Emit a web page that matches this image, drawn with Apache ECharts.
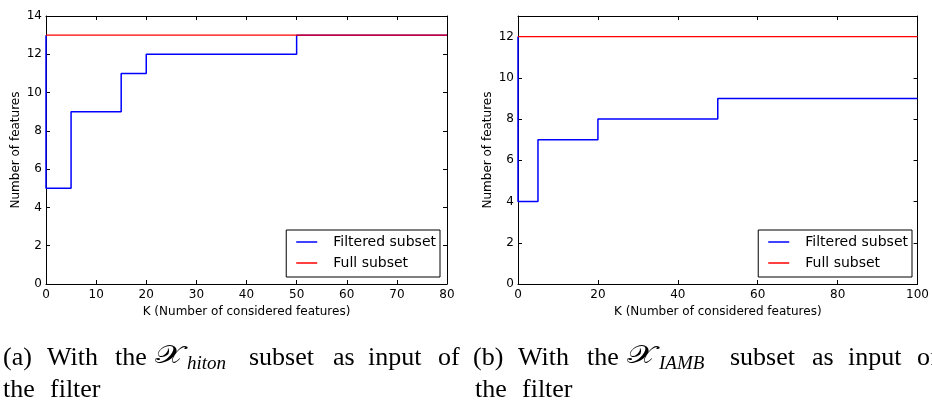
<!DOCTYPE html>
<html><head><meta charset="utf-8">
<script src="https://cdn.jsdelivr.net/npm/echarts@6/dist/echarts.min.js"></script>
<style>html,body{margin:0;padding:0;background:#fff}#c{width:932px;height:403px}</style>
</head><body><div id="c"></div>
<script>
// Data
const kHiton = [0, 0, 5, 15, 20, 50, 80];
const filteredHiton = [13, 5, 9, 11, 12, 13, 13];
const fullHitonK = [0, 80];
const fullHiton = [13, 13];
const kIamb = [0, 0, 5, 20, 50, 100];
const filteredIamb = [12, 4, 7, 8, 9, 9];
const fullIambK = [0, 100];
const fullIamb = [12, 12];
const seriesNames = ['Filtered subset', 'Full subset'];
const xName = 'K (Number of considered features)';
const yName = 'Number of features';
// Caption words (text, left x) — justified line layout of the original
const captionA1 = [['(a)', 3], ['With', 47], ['the', 115], ['subset', 249], ['as', 333], ['input', 368], ['of', 438]];
const captionA2 = [['the', 3], ['filter', 50]];
const captionB1 = [['(b)', 473], ['With', 518], ['the', 587], ['subset', 730], ['as', 812], ['input', 848], ['of', 917]];
const captionB2 = [['the', 475], ['filter', 522]];
const mathA = { sym: '𝒳', x: 155, sub: 'hiton', subX: 187 };
const mathB = { sym: '𝒳', x: 627, sub: 'IAMB', subX: 659 };

const FONT = 'DejaVu Sans';
const SERIF = 'Liberation Serif';
const zip = (xs, ys) => xs.map((x, i) => [x, ys[i]]);

function xAxes(gi, max, interval) {
  const base = {
    type: 'value', gridIndex: gi, min: 0, max: max, interval: interval,
    axisLine: { show: true, onZero: false, lineStyle: { color: '#000', width: 1 } },
    axisTick: { show: true, inside: true, length: 4, lineStyle: { color: '#000', width: 1 } },
    splitLine: { show: false }
  };
  return [
    Object.assign({}, base, {
      position: 'bottom',
      axisLabel: { color: '#000', fontFamily: FONT, fontSize: 12, margin: 5 },
      name: xName, nameLocation: 'middle', nameGap: 20,
      nameTextStyle: { color: '#000', fontFamily: FONT, fontSize: 12 }
    }),
    Object.assign({}, base, { position: 'top', axisLabel: { show: false } })
  ];
}
function yAxes(gi, max, interval) {
  const base = {
    type: 'value', gridIndex: gi, min: 0, max: max, interval: interval,
    axisLine: { show: true, onZero: false, lineStyle: { color: '#000', width: 1 } },
    axisTick: { show: true, inside: true, length: 4, lineStyle: { color: '#000', width: 1 } },
    splitLine: { show: false }
  };
  return [
    Object.assign({}, base, {
      position: 'left',
      axisLabel: { color: '#000', fontFamily: FONT, fontSize: 12, margin: 4, showMaxLabel: max % interval === 0 },
      name: yName, nameLocation: 'middle', nameGap: 24, nameRotate: 90,
      nameTextStyle: { color: '#000', fontFamily: FONT, fontSize: 12 }
    }),
    Object.assign({}, base, { position: 'right', axisLabel: { show: false } })
  ];
}
function legend(right) {
  return {
    orient: 'vertical', right: right, bottom: 126,
    padding: [5, 4, 7, 10], itemWidth: 21, itemHeight: 1.5, itemGap: 7, icon: 'rect',
    borderColor: '#000', borderWidth: 1, borderRadius: 0, backgroundColor: '#fff',
    selectedMode: false,
    textStyle: { fontFamily: FONT, fontSize: 14, lineHeight: 14, color: '#000', padding: [0, 0, 0, 11] },
    data: seriesNames
  };
}
function word(text, left, top, size, italic, family) {
  return {
    type: 'text', left: left, top: top, silent: true,
    style: { text: text, fontFamily: family || SERIF, fontSize: size, fontStyle: italic ? 'italic' : 'normal', fill: '#000' }
  };
}
function captionGraphics(line1, line2, math) {
  const out = [];
  line1.forEach(w => out.push(word(w[0], w[1], 345, 26, false)));
  line2.forEach(w => out.push(word(w[0], w[1], 377, 26, false)));
  out.push({
    type: 'text', x: math.x, y: 344, scaleX: 1.35, silent: true,
    style: { text: math.sym, fontFamily: 'DejaVu Serif, DejaVu Sans, serif', fontSize: 25, fill: '#000',
      textAlign: 'left', textVerticalAlign: 'top', align: 'left', verticalAlign: 'top' }
  });
  out.push(word(math.sub, math.subX, 354, 19, true));
  return out;
}

const chart = echarts.init(document.getElementById('c'), null, { renderer: 'canvas' });
chart.setOption({
  animation: false,
  backgroundColor: '#fff',
  grid: [
    { left: 46, top: 16, width: 401, height: 268 },
    { left: 518, top: 16, width: 401, height: 268 }
  ],
  xAxis: [...xAxes(0, 80, 10), ...xAxes(1, 100, 20)],
  yAxis: [...yAxes(0, 14, 2), ...yAxes(1, 13, 2)],
  legend: [legend(492), legend(20)],
  series: [
    { name: seriesNames[0], type: 'line', xAxisIndex: 0, yAxisIndex: 0, step: 'end', symbol: 'none',
      lineStyle: { color: '#0000ff', width: 1.5 }, itemStyle: { color: '#0000ff' }, data: zip(kHiton, filteredHiton) },
    { name: seriesNames[1], type: 'line', xAxisIndex: 0, yAxisIndex: 0, symbol: 'none',
      lineStyle: { color: '#ff0000', width: 1.2 }, itemStyle: { color: '#ff0000' }, data: zip(fullHitonK, fullHiton) },
    { name: seriesNames[0], type: 'line', xAxisIndex: 2, yAxisIndex: 2, step: 'end', symbol: 'none',
      lineStyle: { color: '#0000ff', width: 1.5 }, itemStyle: { color: '#0000ff' }, data: zip(kIamb, filteredIamb) },
    { name: seriesNames[1], type: 'line', xAxisIndex: 2, yAxisIndex: 2, symbol: 'none',
      lineStyle: { color: '#ff0000', width: 1.2 }, itemStyle: { color: '#ff0000' }, data: zip(fullIambK, fullIamb) }
  ],
  graphic: [
    ...captionGraphics(captionA1, captionA2, mathA),
    ...captionGraphics(captionB1, captionB2, mathB)
  ]
});
</script></body></html>
